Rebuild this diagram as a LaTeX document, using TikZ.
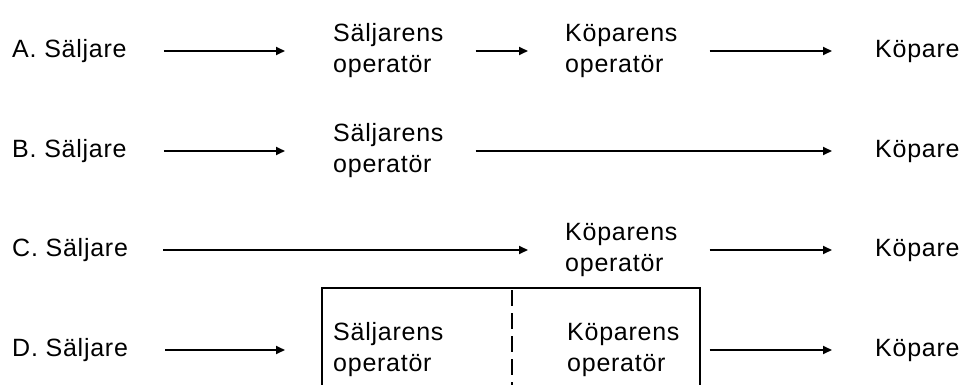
\documentclass[tikz,border=0pt]{standalone}
\usepackage{fontspec}
\setmainfont{Liberation Sans}[LetterSpace=3]
\usepackage{tikz}
\usetikzlibrary{arrows.meta, positioning}
\tikzstyle{party} = [anchor=west, inner sep=0pt, font=\fontsize{25}{31}\selectfont]
\tikzstyle{operator} = [party, align=left]
\tikzstyle{arrow} = [line width=1.8pt, -{Triangle[length=9pt, width=8pt]}]
\tikzstyle{frame} = [line width=1.8pt]
\tikzstyle{divider} = [line width=1.8pt, dash pattern=on 16pt off 7pt]

\begin{document}
\begin{tikzpicture}[x=1pt, y=-1pt]
\useasboundingbox (0,0) rectangle (964,385);
\clip (0,0) rectangle (964,385);

% A
\node (saljA) [party] at (12,51) {A. Säljare};
\node (opsA) [operator] at (333,51) {Säljarens\\operatör};
\node (opkA) [operator] at (565,51) {Köparens\\operatör};
\node (kopA) [party] at (875,51) {Köpare};

% B
\node (saljB) [party] at (12,151) {B. Säljare};
\node (opsB) [operator] at (333,151) {Säljarens\\operatör};
\node (kopB) [party] at (875,151) {Köpare};

% C
\node (saljC) [party] at (12,250) {C. Säljare};
\node (opkC) [operator] at (565,250) {Köparens\\operatör};
\node (kopC) [party] at (875,250) {Köpare};

% D
\node (saljD) [party] at (12,350) {D. Säljare};
\node (opsD) [operator] at (333,350) {Säljarens\\operatör};
\node (opkD) [operator] at (567,350) {Köparens\\operatör};
\node (kopD) [party] at (875,350) {Köpare};

% gemensam operatör
\draw [frame] (322,395) |- (700,288) -- (700,395);
\draw [divider] (512,290) -- (512,395);

% Arrows
\draw [arrow, shorten <=37pt, shorten >=48pt] (saljA.east) -- (opsA.west);
\draw [arrow, shorten <=32pt, shorten >=37pt] (opsA.east) -- (opkA.west);
\draw [arrow, shorten <=32pt, shorten >=43pt] (opkA.east) -- (kopA.west);

\draw [arrow, shorten <=37pt, shorten >=48pt] (saljB.east) -- (opsB.west);
\draw [arrow, shorten <=32pt, shorten >=43pt] (opsB.east) -- (kopB.west);

\draw [arrow, shorten <=35pt, shorten >=37pt] (saljC.east) -- (opkC.west);
\draw [arrow, shorten <=32pt, shorten >=43pt] (opkC.east) -- (kopC.west);

\draw [arrow, shorten <=37pt, shorten >=48pt] (saljD.east) -- (opsD.west);
\draw [arrow, shorten <=30pt, shorten >=43pt] (opkD.east) -- (kopD.west);

\end{tikzpicture}
\end{document}
